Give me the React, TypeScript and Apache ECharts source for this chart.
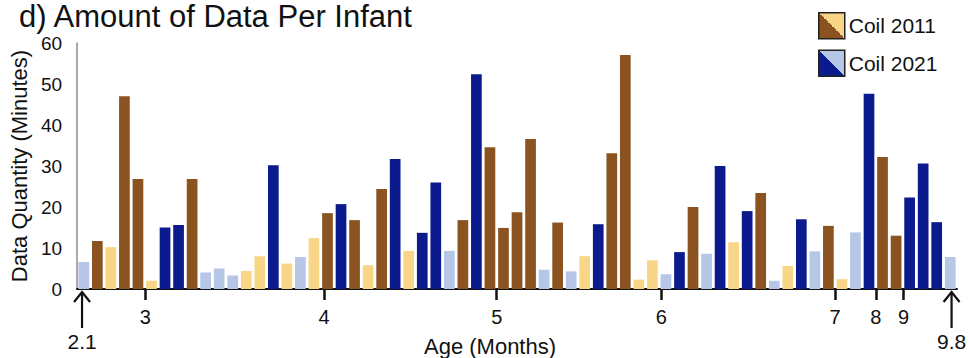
import React, { useEffect, useRef } from "react";
import * as echarts from "echarts";

// Bar values (minutes), one per infant/session, left to right
const values = [
  6.6, 11.7, 10.2, 47, 26.8, 2, 15, 15.6, 26.8, 4,
  5, 3.3, 4.4, 8, 30.2, 6.2, 7.8, 12.4, 18.5, 20.7,
  16.8, 5.8, 24.4, 31.7, 9.3, 13.7, 26, 9.3, 16.8, 52.4,
  34.6, 14.9, 18.7, 36.6, 4.7, 16.2, 4.3, 8, 15.8, 33.1,
  57.1, 2.3, 7, 3.6, 9, 20, 8.6, 30, 11.4, 19,
  23.4, 2, 5.6, 17, 9.2, 15.4, 2.4, 13.8, 47.6, 32.2,
  13, 22.3, 30.6, 16.3, 7.8,
];
// Coil per bar
const coil = [
  "2021", "2011", "2011", "2011", "2011", "2011", "2021", "2021", "2011", "2021",
  "2021", "2021", "2011", "2011", "2021", "2011", "2021", "2011", "2011", "2021",
  "2011", "2011", "2011", "2021", "2011", "2021", "2021", "2021", "2011", "2021",
  "2011", "2011", "2011", "2011", "2021", "2011", "2021", "2011", "2021", "2011",
  "2011", "2011", "2011", "2021", "2021", "2011", "2021", "2021", "2011", "2021",
  "2011", "2021", "2011", "2021", "2021", "2011", "2011", "2021", "2021", "2011",
  "2011", "2021", "2021", "2021", "2021",
];
// Shade per bar: L = light, D = dark
const shade = [
  "L", "D", "L", "D", "D", "L", "D", "D", "D", "L",
  "L", "L", "L", "L", "D", "L", "L", "L", "D", "D",
  "D", "L", "D", "D", "L", "D", "D", "L", "D", "D",
  "D", "D", "D", "D", "L", "D", "L", "L", "D", "D",
  "D", "L", "L", "L", "D", "D", "L", "D", "L", "D",
  "D", "L", "L", "D", "L", "D", "L", "L", "D", "D",
  "D", "D", "D", "D", "L",
];
const categories = values.map((_, i) => String(i + 1));

// Month tick labels and their positions along the bar sequence (in bar units)
const monthLabels = ["3", "4", "5", "6", "7", "8", "9"];
const monthPos = [5.05, 18.25, 31, 43.15, 56, 59, 61.05];
// Arrow markers at the ends of the age range
const arrowLabels = ["2.1", "9.8"];
const arrowPos = [0.37, 64.6];

const BROWN = "#8a5320";
const YELLOW = "#f8d587";
const DBLUE = "#0b1a8c";
const LBLUE = "#b5c6e6";
const FONT = "'Liberation Sans', Arial, Helvetica, sans-serif";

export default function App() {
  const ref = useRef<HTMLDivElement>(null);
  useEffect(() => {
    if (!ref.current) return;
    const chart = echarts.init(ref.current, undefined, { renderer: "svg" });

    const mkData = (c: string, dark: string, light: string) =>
      values.map((v, i) =>
        coil[i] === c
          ? { value: v, itemStyle: { color: shade[i] === "D" ? dark : light } }
          : "-"
      );
    const split = (dark: string, light: string) =>
      new echarts.graphic.LinearGradient(0, 1, 1, 0, [
        { offset: 0, color: dark },
        { offset: 0.5, color: dark },
        { offset: 0.5, color: light },
        { offset: 1, color: light },
      ]);

    chart.setOption({
      animation: false,
      textStyle: { fontFamily: FONT },
      title: {
        text: "d) Amount of Data Per Infant",
        left: 19,
        top: 1,
        padding: 0,
        textStyle: { fontSize: 31, lineHeight: 31, fontWeight: "normal", color: "#111", fontFamily: FONT },
      },
      legend: {
        orient: "vertical",
        left: 818,
        top: 12,
        itemWidth: 26,
        itemHeight: 26,
        itemGap: 10,
        padding: 0,
        icon: "rect",
        textStyle: { fontSize: 21, color: "#111", fontFamily: FONT, padding: [0, 0, 0, -1] },
        data: [
          { name: "Coil 2011", itemStyle: { color: split(BROWN, YELLOW), borderColor: "#222", borderWidth: 1.5 } },
          { name: "Coil 2021", itemStyle: { color: split(DBLUE, LBLUE), borderColor: "#222", borderWidth: 1.5 } },
        ],
      },
      grid: { left: 75, right: 12, top: 43, bottom: 69, containLabel: false },
      xAxis: [
        {
          type: "category",
          data: categories,
          axisLine: { show: true, lineStyle: { color: "#111", width: 2 } },
          axisTick: { show: false },
          axisLabel: { show: false },
          splitLine: { show: false },
        },
        {
          type: "value",
          min: 0,
          max: 65,
          position: "bottom",
          axisLine: { show: false },
          splitLine: { show: false },
          axisTick: {
            show: true,
            customValues: monthPos,
            length: 11,
            lineStyle: { color: "#111", width: 2.5 },
          },
          axisLabel: {
            show: true,
            customValues: monthPos,
            margin: 18,
            fontSize: 20,
            color: "#111",
            fontFamily: FONT,
            formatter: (v: number) => {
              let best = 0;
              for (let i = 1; i < monthPos.length; i++)
                if (Math.abs(monthPos[i] - v) < Math.abs(monthPos[best] - v)) best = i;
              return monthLabels[best];
            },
          },
        },
      ],
      yAxis: {
        type: "value",
        min: 0,
        max: 60,
        interval: 10,
        name: "Data Quantity (Minutes)",
        nameLocation: "middle",
        nameGap: 42,
        nameTextStyle: { fontSize: 22, color: "#111", fontFamily: FONT },
        axisLine: { show: true, lineStyle: { color: "#8c8c8c", width: 1.5 } },
        axisTick: { show: false },
        splitLine: { show: false },
        axisLabel: { fontSize: 19, color: "#111", margin: 15, fontFamily: FONT },
      },
      series: [
        {
          name: "Coil 2011",
          type: "bar",
          stack: "all",
          barCategoryGap: "21%",
          itemStyle: { color: BROWN },
          data: mkData("2011", BROWN, YELLOW),
        },
        {
          name: "Coil 2021",
          type: "bar",
          stack: "all",
          barCategoryGap: "21%",
          itemStyle: { color: DBLUE },
          data: mkData("2021", DBLUE, LBLUE),
        },
      ],
    });

    const y0 = chart.convertToPixel({ yAxisIndex: 0 }, 0) as number;
    const xMid = ((chart.convertToPixel({ xAxisIndex: 1 }, 0) as number) +
      (chart.convertToPixel({ xAxisIndex: 1 }, 65) as number)) / 2;
    const graphics: any[] = [];
    arrowPos.forEach((p, i) => {
      const x = chart.convertToPixel({ xAxisIndex: 1 }, p) as number;
      const tip = y0 + 3;
      graphics.push({
        type: "line",
        shape: { x1: x, y1: tip, x2: x, y2: tip + 36 },
        style: { stroke: "#111", lineWidth: 2.2 },
      });
      graphics.push({
        type: "polyline",
        shape: { points: [[x - 8, tip + 10], [x, tip], [x + 8, tip + 10]] },
        style: { stroke: "#111", lineWidth: 2.2, fill: "none" },
      });
      graphics.push({
        type: "text",
        x,
        y: tip + 49,
        style: {
          text: arrowLabels[i],
          fontSize: 21,
          fontFamily: FONT,
          fill: "#111",
          align: "center",
          verticalAlign: "middle",
        },
      });
    });
    graphics.push({
      type: "text",
      x: xMid - 27,
      y: y0 + 57,
      style: {
        text: "Age (Months)",
        fontSize: 22,
        fontFamily: FONT,
        fill: "#111",
        align: "center",
        verticalAlign: "middle",
      },
    });
    chart.setOption({ graphic: graphics });

    return () => chart.dispose();
  }, []);

  return (
    <div
      ref={ref}
      style={{ position: "fixed", left: 0, top: 0, width: 969, height: 358, background: "#fff" }}
    />
  );
}
